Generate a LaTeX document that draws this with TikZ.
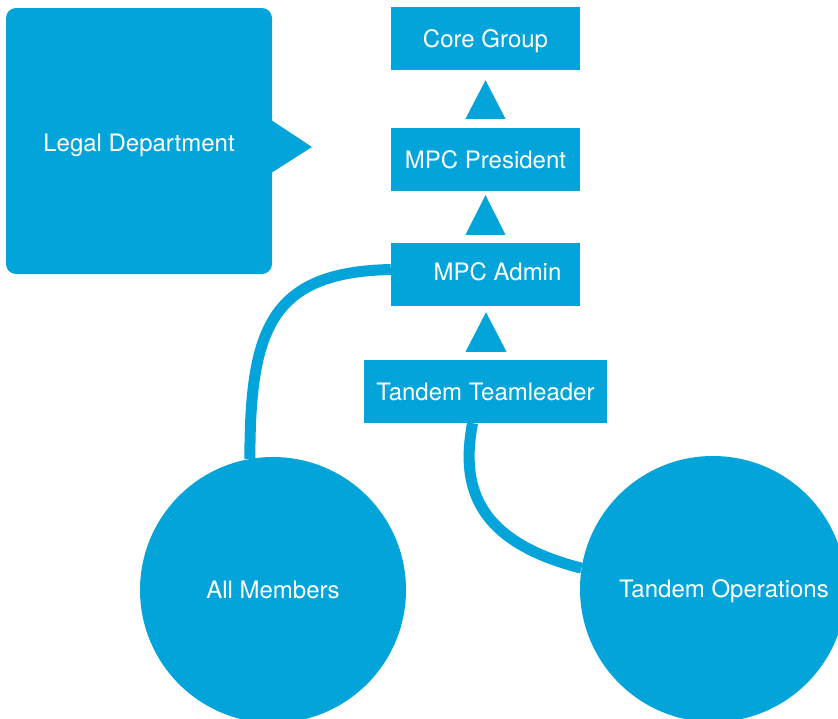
\documentclass[tikz,border=0pt]{standalone}
\usepackage{fontspec}
\setmainfont{TeX Gyre Heros}
\usetikzlibrary{calc}
\definecolor{orgblue}{RGB}{3,164,218}
\tikzset{
  lbl/.style={text=white, inner sep=0pt, text height=17pt, text depth=0pt, font=\fontsize{24}{28}\selectfont},
  box/.style={lbl, rectangle, fill=orgblue},
  bubble/.style={lbl, circle, fill=orgblue, minimum size=266pt},
  link/.style={draw=orgblue, line width=11pt},
  tri/.style={fill=orgblue}
}
\begin{document}
\begin{tikzpicture}[x=1pt,y=-1pt]
\useasboundingbox (0,0) rectangle (838,718);
\clip (0,0) rectangle (838,718);
% legal department
\node[box, rounded corners=10pt, minimum width=266pt, minimum height=266pt] (legal) at (139,141) {};
\node[lbl] (legaltext) at (139,143) {Legal Department};
\coordinate (ptip) at (312,147);
\fill[tri] ($(legal.east)+(-1,-21)$) -- (ptip) -- ($(legal.east)+(-1,32)$) -- cycle;
% hierarchy boxes
\node[box, minimum width=189pt, minimum height=63pt] (core) at (485.5,38.5) {Core Group};
\node[box, minimum width=189pt, minimum height=63pt] (pres) at (485.5,159.5) {MPC President};
\node[box, minimum width=189pt, minimum height=63pt, text depth=5pt] (admin) at (485.5,274.5) {\hspace*{24pt}MPC Admin};
\node[box, minimum width=243pt, minimum height=63pt] (tl) at (485.5,391.5) {Tandem Teamleader};
% arrow triangles
\fill[tri] ($(pres.north)+(-20,-9)$) -- ($(core.south)+(0,10)$) -- ($(pres.north)+(20,-9)$) -- cycle;
\fill[tri] ($(admin.north)+(-20,-8)$) -- ($(pres.south)+(0,4)$) -- ($(admin.north)+(20,-8)$) -- cycle;
\fill[tri] ($(tl.north)+(-20,-8)$) -- ($(admin.south)+(0.5,6)$) -- ($(tl.north)+(21,-8)$) -- cycle;
% circles
\node[bubble] (allm) at (273,590) {All Members};
\node[bubble] (tops) at (713,589) {\hspace*{22pt}Tandem Operations};
% connectors
\coordinate (adminL) at ($(admin.west)+(0,-5)$);
\coordinate (tlB) at ($(tl.south)+(-13,0)$);
\draw[link] (adminL) .. controls (270,272) and (250,330) .. (allm.100);
\draw[link] (tlB) .. controls (462,480) and (470,540) .. (tops.171);
\end{tikzpicture}
\end{document}
